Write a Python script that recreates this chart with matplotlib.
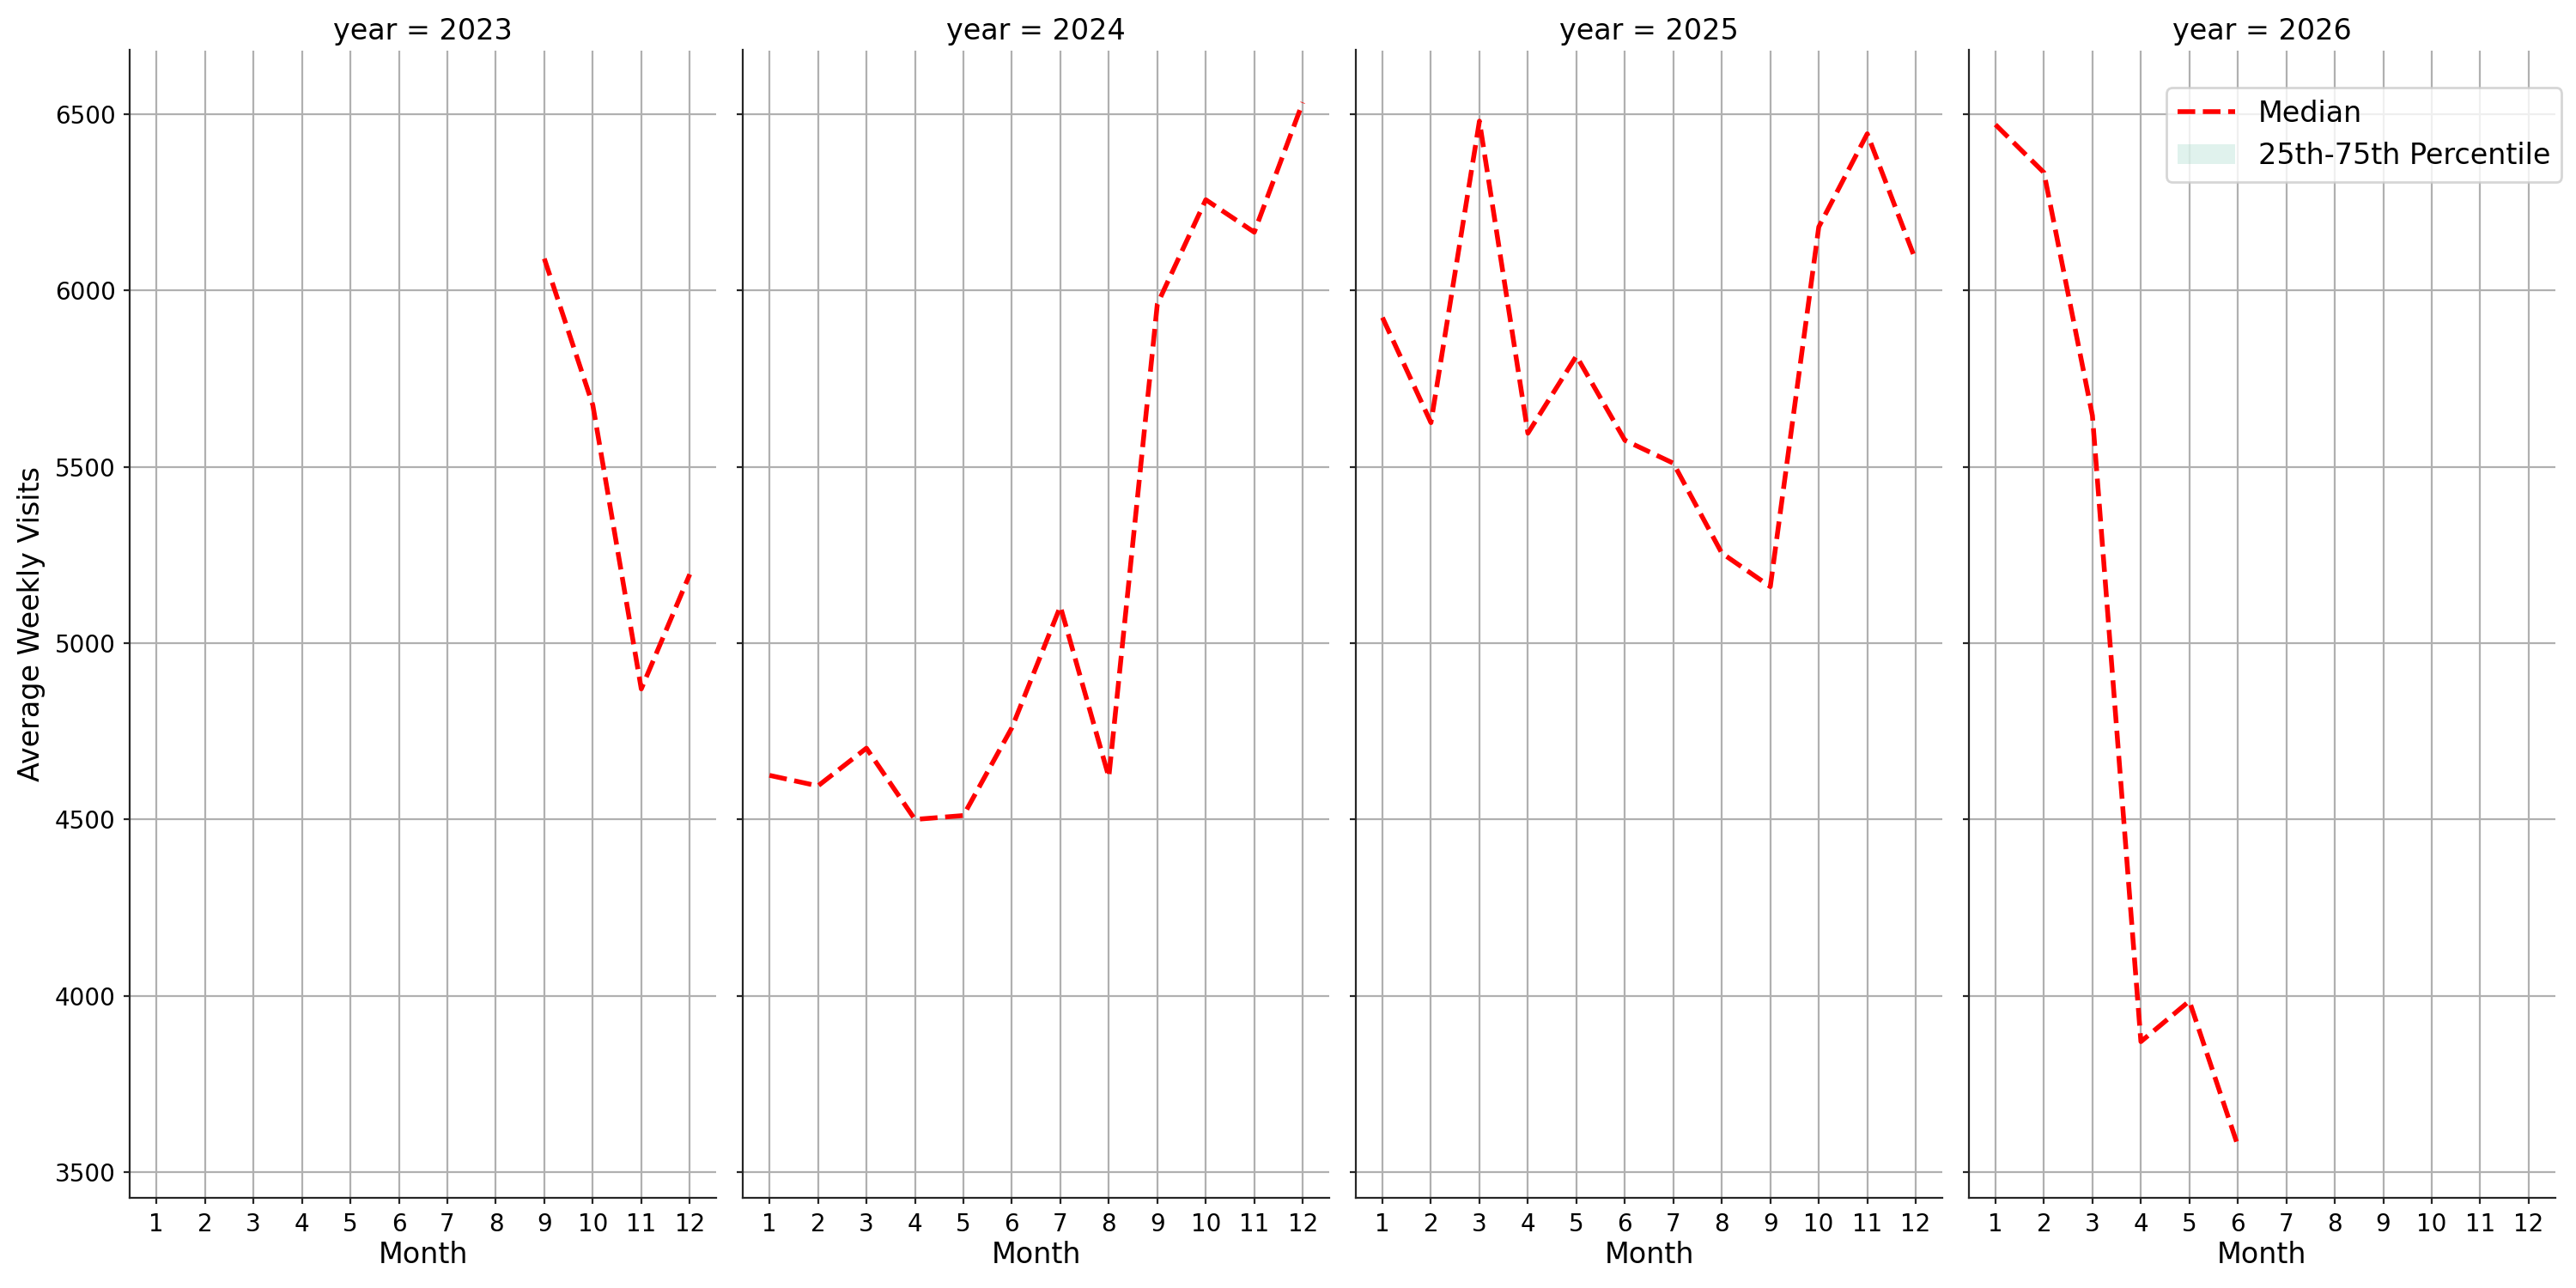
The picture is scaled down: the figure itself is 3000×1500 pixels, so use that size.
import numpy as np
import matplotlib.pyplot as plt
from matplotlib.lines import Line2D
from matplotlib.patches import Patch

# Median average weekly visits
years = [2023, 2024, 2025, 2026]

months_2023 = [9, 10, 11, 12]
median_2023 = [6090, 5675, 4870, 5195]

months_2024 = [1, 2, 3, 4, 5, 6, 7, 8, 9, 10, 11, 12]
median_2024 = [4625, 4595, 4702, 4500, 4511, 4760, 5104, 4620, 5961, 6257, 6165, 6533]

months_2025 = [1, 2, 3, 4, 5, 6, 7, 8, 9, 10, 11, 12]
median_2025 = [5923, 5625, 6480, 5595, 5814, 5575, 5510, 5255, 5160, 6180, 6444, 6085]

months_2026 = [1, 2, 3, 4, 5, 6]
median_2026 = [6470, 6334, 5645, 3870, 3985, 3575]

month_ticks = list(range(1, 13))

series = {
    2023: (months_2023, median_2023),
    2024: (months_2024, median_2024),
    2025: (months_2025, median_2025),
    2026: (months_2026, median_2026),
}

fig, axes = plt.subplots(1, 4, figsize=(15, 7.5), sharex=True, sharey=True)

for ax, year in zip(axes, years):
    m, v = series[year]
    ax.plot(m, v, color="red", linestyle="--", linewidth=2, label="Median")
    ax.set_title(f"year = {year}", fontsize=12, pad=4.5)
    ax.set_xlabel("Month", fontsize=12, labelpad=2)
    ax.set_xticks(month_ticks)
    ax.tick_params(labelsize=10, length=2.5, color="#262626")
    ax.grid(True, color="#b0b0b0", linewidth=0.8)
    ax.set_axisbelow(True)
    ax.spines["top"].set_visible(False)
    ax.spines["right"].set_visible(False)
    for s in ("left", "bottom"):
        ax.spines[s].set_color("#262626")

axes[0].set_xlim(0.45, 12.55)
axes[0].set_ylabel("Average Weekly Visits", fontsize=12)

handles = [
    Line2D([0], [0], color="red", linestyle="--", linewidth=2),
    Patch(facecolor="#66c2a5", alpha=0.2, edgecolor="none"),
]
fig.legend(handles, ["Median", "25th-75th Percentile"], loc="upper right",
           bbox_to_anchor=(1.0, 0.943), fontsize=12)

fig.subplots_adjust(left=0.0504, right=0.992, top=0.961, bottom=0.07, wspace=0.045)
fig.savefig("out.png", dpi=200)
